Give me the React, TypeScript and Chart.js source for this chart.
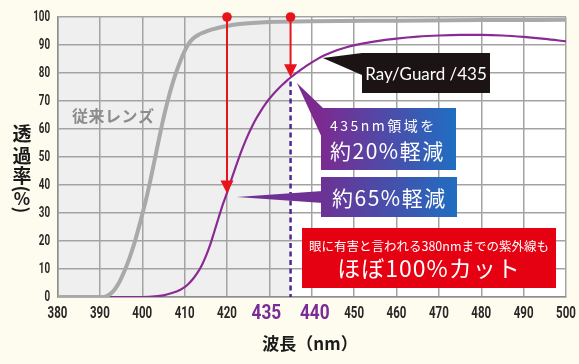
import React, { useEffect, useRef } from 'react';
import { Chart, registerables } from 'chart.js';

Chart.register(...registerables);

// ---- data ----
const conventionalNm = [380, 390, 391, 392, 393, 394, 395, 396, 397, 398, 399, 400, 401, 402, 403, 404, 405, 406, 407, 408, 409, 410, 411, 412, 413, 414, 415, 416, 417, 418, 420, 423, 426, 430, 440, 460, 480, 500];
const conventionalLens = [0, 0, 0, 0.6, 1.8, 3.8, 6.6, 10, 14, 18.5, 23.8, 29.5, 35.5, 42.3, 49.5, 56.8, 63.8, 70, 75.5, 80.2, 84.3, 87.8, 90.6, 92.3, 93.4, 94.2, 94.8, 95.3, 95.75, 96.15, 96.8, 97.5, 97.9, 98.2, 98.5, 98.7, 98.9, 99];

const rayGuardNm = [380, 400, 403, 405, 407, 409, 410, 411, 412, 413, 414, 415, 416, 417, 418, 419, 420, 421, 422, 423, 424, 425, 426, 427, 428, 429, 430, 431, 432, 433, 434, 435, 436, 437, 439, 441, 443, 445, 448, 451, 455, 460, 465, 470, 475, 480, 485, 490, 495, 500];
const rayGuard435 = [0, 0, 0.2, 0.6, 1.4, 2.6, 3.5, 4.8, 6.5, 8.6, 11.2, 14.5, 18.5, 23.3, 28.2, 33, 37.2, 41.8, 46.2, 50.5, 54.4, 58, 61.2, 64, 66.5, 68.8, 70.8, 72.6, 74.2, 75.7, 77.1, 78.4, 79.6, 80.7, 82.8, 84.7, 86.3, 87.6, 89.1, 90.2, 91.3, 92.3, 93, 93.4, 93.6, 93.6, 93.4, 92.9, 92.2, 91.3];

const xTickValues = [380, 390, 400, 410, 420, 430, 440, 450, 460, 470, 480, 490, 500];
const xTickLabels = ['380', '390', '400', '410', '420', '435', '440', '450', '460', '470', '480', '490', '500'];
const highlightTicks = ['435', '440'];
const yTickValues = [0, 10, 20, 30, 40, 50, 60, 70, 80, 90, 100];

const markerNm = [420, 435];
const markerTop = [100, 100];
const markerTip = [37, 78.5];
const dashedNm = 435;
const dashedFrom = 77;
const shadeEndNm = 435;

const CJK = '"Noto Sans CJK JP", "Noto Sans", sans-serif';
const NUM = 'Roboto, "Noto Sans", sans-serif';

function poly(ctx: CanvasRenderingContext2D, pts: number[][], fill: any) {
  ctx.beginPath();
  ctx.moveTo(pts[0][0], pts[0][1]);
  for (let i = 1; i < pts.length; i++) ctx.lineTo(pts[i][0], pts[i][1]);
  ctx.closePath();
  ctx.fillStyle = fill;
  ctx.fill();
}

function text(ctx: CanvasRenderingContext2D, s: string, x: number, y: number, font: string, color: any, align: CanvasTextAlign = 'center', spacing = '0px', sx = 1, rot = 0) {
  ctx.save();
  ctx.translate(x, y);
  if (rot) ctx.rotate(rot);
  ctx.scale(sx, 1);
  ctx.font = font;
  ctx.fillStyle = color;
  ctx.textAlign = align;
  ctx.textBaseline = 'middle';
  (ctx as any).letterSpacing = spacing;
  ctx.fillText(s, 0, 0);
  ctx.restore();
}

const bgPlugin = {
  id: 'bgShade',
  beforeDraw(chart: any) {
    const { ctx, chartArea: a, scales } = chart;
    ctx.save();
    ctx.fillStyle = '#fdfcee';
    ctx.fillRect(0, 0, chart.width, chart.height);
    const xs = scales.x.getPixelForValue(shadeEndNm);
    ctx.fillStyle = '#efefef';
    ctx.fillRect(a.left, a.top, xs - a.left, a.bottom - a.top);
    ctx.fillStyle = '#ffffff';
    ctx.fillRect(xs, a.top, a.right - xs, a.bottom - a.top);
    ctx.restore();
  },
};

const tickPlugin = {
  id: 'tickLabels',
  afterDraw(chart: any) {
    const { ctx, scales } = chart;
    const xs = scales.x;
    const ys = scales.y;
    xs.ticks.forEach((t: any, i: number) => {
      const lab = xTickLabels[i];
      const px = xs.getPixelForTick(i);
      if (highlightTicks.includes(lab)) {
        const cx = px + (lab === '435' ? -3 : 3);
        const g = ctx.createLinearGradient(cx - 15, 0, cx + 15, 0);
        g.addColorStop(0, '#7a2c96');
        g.addColorStop(0.45, '#6b3aa0');
        g.addColorStop(1, '#2a6cc2');
        text(ctx, lab, cx, 314, `bold 21px ${NUM}`, g, 'center', '0px', 0.82);
      } else {
        text(ctx, lab, px, 314, `bold 16px ${NUM}`, '#2a2627', 'center', '0px', 0.72);
      }
    });
    ys.ticks.forEach((t: any, i: number) => {
      const py = ys.getPixelForTick(i);
      ctx.save();
      ctx.translate(50, py);
      ctx.scale(0.7, 1);
      ctx.font = `bold 14px ${NUM}`;
      ctx.fillStyle = '#2a2627';
      ctx.textAlign = 'right';
      ctx.textBaseline = 'middle';
      ctx.fillText(String(t.value), 0, 0);
      ctx.restore();
    });
  },
};

const overlayPlugin = {
  id: 'overlay',
  afterDatasetsDraw(chart: any) {
    const { ctx, scales } = chart;
    const X = (v: number) => scales.x.getPixelForValue(v);
    const Y = (v: number) => scales.y.getPixelForValue(v);
    ctx.save();

    // dashed 435 line
    ctx.strokeStyle = '#4e2a8e';
    ctx.lineWidth = 2.5;
    ctx.setLineDash([5, 3.5]);
    ctx.beginPath();
    ctx.moveTo(X(dashedNm), Y(dashedFrom));
    ctx.lineTo(X(dashedNm), Y(0));
    ctx.stroke();
    ctx.setLineDash([]);

    // red markers
    markerNm.forEach((nm, i) => {
      const x = X(nm);
      const yt = Y(markerTop[i]);
      const yb = Y(markerTip[i]);
      ctx.strokeStyle = '#e8141c';
      ctx.lineWidth = 2;
      ctx.beginPath();
      ctx.moveTo(x, yt);
      ctx.lineTo(x, yb - 10);
      ctx.stroke();
      ctx.beginPath();
      ctx.arc(x, yt, 4.8, 0, Math.PI * 2);
      ctx.fillStyle = '#e8141c';
      ctx.fill();
      poly(ctx, [[x - 6.5, yb - 13], [x + 6.5, yb - 13], [x, yb]], '#e8141c');
    });

    // 従来レンズ label
    text(ctx, '従来レンズ', 72, 116, `bold 16px ${CJK}`, '#8c8c8c', 'left', '0.5px');

    // Ray/Guard box
    poly(ctx, [[X(442.6), Y(85.4)], [362, 53], [362, 75]], '#1b1314');
    ctx.fillStyle = '#1b1314';
    ctx.fillRect(362, 53, 128, 40);
    text(ctx, 'Ray/Guard /435', 426, 75, `17px Lato, "Noto Sans", sans-serif`, '#ffffff', 'center', '0px');

    // 435nm box
    const g1 = ctx.createLinearGradient(320, 0, 456, 0);
    g1.addColorStop(0, '#7c2a90');
    g1.addColorStop(1, '#1f6ec2');
    poly(ctx, [[X(436.5), Y(76.4)], [323, 108], [323, 140]], '#7c2a90');
    ctx.fillStyle = g1;
    ctx.fillRect(321, 108, 135, 62);
    text(ctx, '435nm領域を', 330, 126, `14px ${CJK}`, '#ffffff', 'left', '2.5px');
    text(ctx, '約20%軽減', 330, 151, `21px ${CJK}`, '#ffffff', 'left', '1.5px');

    // 65% box
    const g2 = ctx.createLinearGradient(320, 0, 458, 0);
    g2.addColorStop(0, '#6e3194');
    g2.addColorStop(1, '#1f6ec2');
    poly(ctx, [[X(422.3), Y(35.7)], [323, 191], [323, 203]], '#6e3194');
    ctx.fillStyle = g2;
    ctx.fillRect(321, 177, 136, 40);
    text(ctx, '約65%軽減', 332, 198, `21px ${CJK}`, '#ffffff', 'left', '1.5px');

    // red box
    ctx.fillStyle = '#e50012';
    ctx.fillRect(302, 228, 254, 60);
    text(ctx, '眼に有害と言われる380nmまでの紫外線も', 429, 246, `12.5px ${CJK}`, '#ffffff', 'center');
    text(ctx, 'ほぼ100%カット', 429, 268, `23px ${CJK}`, '#ffffff', 'center', '1px');

    // y-axis title (vertical)
    const yt = ['透', '過', '率'];
    const yy = [134, 156, 176];
    yt.forEach((c, i) => text(ctx, c, 22, yy[i], `bold 19px ${CJK}`, '#1a1a1a'));
    text(ctx, '(', 22, 189, `bold 18px ${CJK}`, '#1a1a1a', 'center', '0px', 1, Math.PI / 2);
    text(ctx, '%', 22, 199, `bold 17px ${CJK}`, '#1a1a1a');
    text(ctx, ')', 22, 210, `bold 18px ${CJK}`, '#1a1a1a', 'center', '0px', 1, Math.PI / 2);

    // x-axis title
    text(ctx, '波長（nm）', 310, 344, `bold 17px ${CJK}`, '#1a1a1a');

    ctx.restore();
  },
};

export default function App() {
  const ref = useRef<HTMLCanvasElement>(null);
  useEffect(() => {
    document.body.style.margin = '0';
    document.body.style.background = '#fdfcee';
    const canvas = ref.current!;
    const chart = new Chart(canvas, {
      type: 'line',
      data: {
        datasets: [
          {
            label: '従来レンズ',
            data: conventionalNm.map((x, i) => ({ x, y: conventionalLens[i] })),
            borderColor: '#a9a9a9',
            borderWidth: 4,
            pointRadius: 0,
            cubicInterpolationMode: 'monotone',
          },
          {
            label: 'RayGuard435',
            data: rayGuardNm.map((x, i) => ({ x, y: rayGuard435[i] })),
            borderColor: '#8a2b94',
            borderWidth: 2.2,
            pointRadius: 0,
            cubicInterpolationMode: 'monotone',
          },
        ],
      },
      options: {
        responsive: false,
        animation: false,
        devicePixelRatio: 1,
        layout: { padding: { left: 0, top: 17, right: 13, bottom: 0 } },
        plugins: { legend: { display: false }, tooltip: { enabled: false } },
        scales: {
          x: {
            type: 'linear',
            min: 380,
            max: 500,
            afterFit: (s: any) => { s.height = 67; },
            afterBuildTicks: (s: any) => { s.ticks = xTickValues.map((v) => ({ value: v })); },
            ticks: { display: false },
            grid: { color: '#a3a3a3', lineWidth: 1.5, drawTicks: false },
            border: { color: '#8e8e8e', width: 1.5 },
          },
          y: {
            type: 'linear',
            min: 0,
            max: 100,
            afterFit: (s: any) => { s.width = 57.5; },
            afterBuildTicks: (s: any) => { s.ticks = yTickValues.map((v) => ({ value: v })); },
            ticks: { display: false },
            grid: { color: '#a3a3a3', lineWidth: 1.5, drawTicks: false },
            border: { color: '#8e8e8e', width: 1.5 },
          },
        },
      },
      plugins: [bgPlugin, overlayPlugin, tickPlugin],
    } as any);
    return () => chart.destroy();
  }, []);
  return (
    <div style={{ width: 579, height: 364, background: '#fdfcee' }}>
      <canvas ref={ref} width={579} height={364} style={{ display: 'block' }} />
    </div>
  );
}
